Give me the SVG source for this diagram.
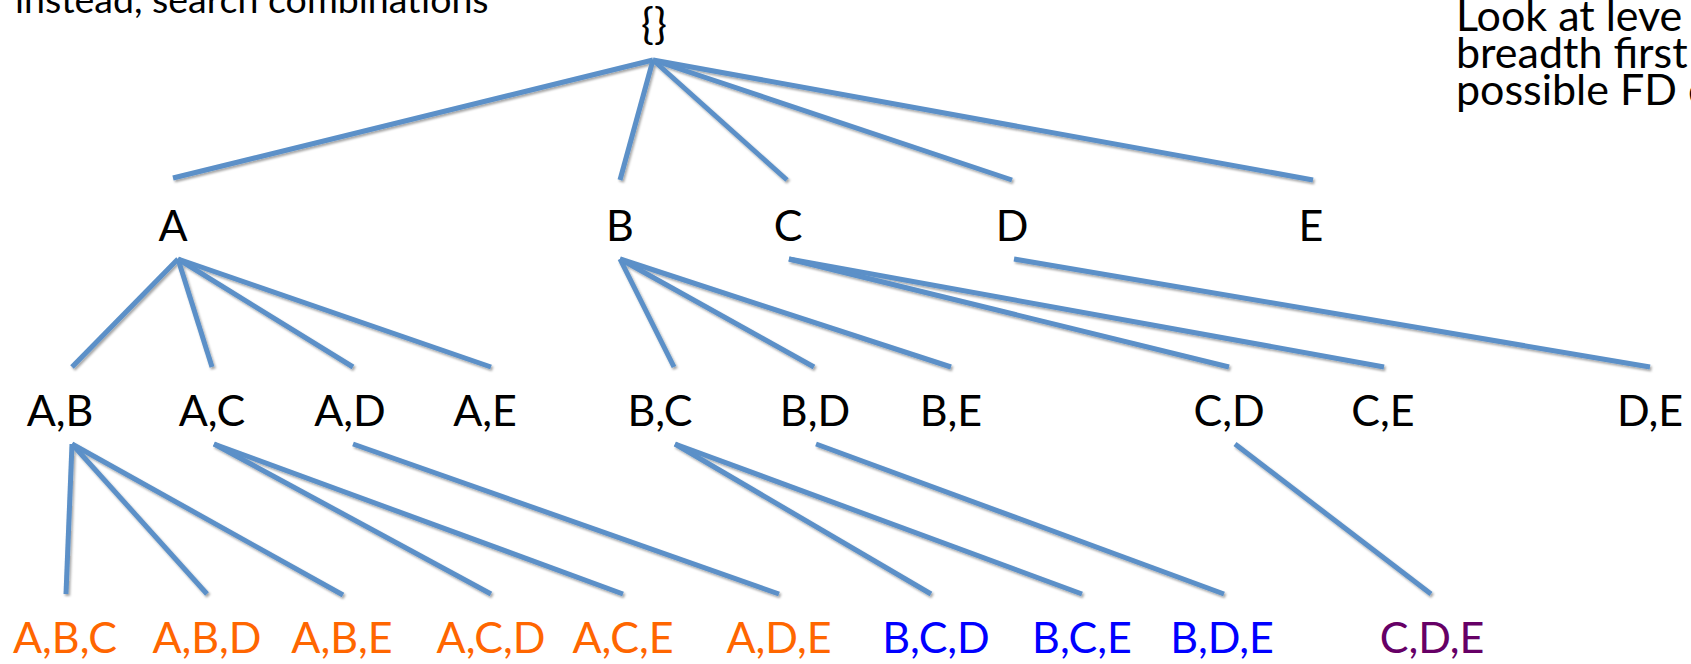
<svg xmlns="http://www.w3.org/2000/svg" width="1691" height="664" viewBox="0 0 1691 664">
<style>
text{font-family:Lato,"Open Sans","Liberation Sans",sans-serif;font-size:43px;text-anchor:middle;fill:#000}
.l{text-anchor:start}
.t{font-size:37.5px}
.o{fill:#FF6600}
.b{fill:#0000FF}
.p{fill:#660066}
#edges line{stroke:#5B90C8;stroke-width:5;stroke-linecap:butt}
</style>
<defs>
<filter id="sh" x="-5%" y="-5%" width="110%" height="120%">
<feDropShadow dx="1.5" dy="2" stdDeviation="1.2" flood-color="#000" flood-opacity="0.35"/>
</filter>
</defs>
<rect width="1691" height="664" fill="#fff"/>
<text class="l t" x="15" y="13">instead, search combinations</text>
<text class="l" x="1456" y="31">Look at leve</text>
<text class="l" x="1456" y="68">breadth first</text>
<text class="l" x="1456" y="105">possible FD c</text>
<g id="edges" filter="url(#sh)">
<line x1="653" y1="60" x2="173" y2="178"/>
<line x1="653" y1="60" x2="620" y2="180"/>
<line x1="653" y1="60" x2="787" y2="180"/>
<line x1="653" y1="60" x2="1012" y2="180"/>
<line x1="653" y1="60" x2="1313" y2="180"/>
<line x1="178" y1="259" x2="72" y2="367"/>
<line x1="178" y1="259" x2="212" y2="367"/>
<line x1="178" y1="259" x2="353" y2="367"/>
<line x1="178" y1="259" x2="491" y2="367"/>
<line x1="620" y1="259" x2="674" y2="367"/>
<line x1="620" y1="259" x2="814" y2="367"/>
<line x1="620" y1="259" x2="951" y2="367"/>
<line x1="789" y1="259" x2="1229" y2="367"/>
<line x1="789" y1="259" x2="1384" y2="367"/>
<line x1="1014" y1="259" x2="1650" y2="367"/>
<line x1="72" y1="444" x2="66" y2="594"/>
<line x1="72" y1="444" x2="207" y2="594"/>
<line x1="72" y1="444" x2="343" y2="595"/>
<line x1="214" y1="444" x2="491" y2="594"/>
<line x1="214" y1="444" x2="623" y2="594"/>
<line x1="353" y1="444" x2="779" y2="594"/>
<line x1="675" y1="444" x2="931" y2="594"/>
<line x1="675" y1="444" x2="1082" y2="594"/>
<line x1="816" y1="444" x2="1224" y2="594"/>
<line x1="1235" y1="444" x2="1431" y2="594"/>
</g>
<g id="n-root"><text x="654" y="39">{}</text></g>
<g id="n-A"><text x="173" y="241">A</text></g>
<g id="n-B"><text x="620" y="241">B</text></g>
<g id="n-C"><text x="788" y="241">C</text></g>
<g id="n-D"><text x="1012" y="241">D</text></g>
<g id="n-E"><text x="1311" y="241">E</text></g>
<g id="n-AB"><text x="60" y="426">A,B</text></g>
<g id="n-AC"><text x="212" y="426">A,C</text></g>
<g id="n-AD"><text x="350" y="426">A,D</text></g>
<g id="n-AE"><text x="485" y="426">A,E</text></g>
<g id="n-BC"><text x="660" y="426">B,C</text></g>
<g id="n-BD"><text x="815" y="426">B,D</text></g>
<g id="n-BE"><text x="951" y="426">B,E</text></g>
<g id="n-CD"><text x="1229" y="426">C,D</text></g>
<g id="n-CE"><text x="1383" y="426">C,E</text></g>
<g id="n-DE"><text x="1650" y="426">D,E</text></g>
<g id="n-ABC"><text class="o" x="65" y="653">A,B,C</text></g>
<g id="n-ABD"><text class="o" x="207" y="653">A,B,D</text></g>
<g id="n-ABE"><text class="o" x="342" y="653">A,B,E</text></g>
<g id="n-ACD"><text class="o" x="491" y="653">A,C,D</text></g>
<g id="n-ACE"><text class="o" x="623" y="653">A,C,E</text></g>
<g id="n-ADE"><text class="o" x="779" y="653">A,D,E</text></g>
<g id="n-BCD"><text class="b" x="936" y="653">B,C,D</text></g>
<g id="n-BCE"><text class="b" x="1082" y="653">B,C,E</text></g>
<g id="n-BDE"><text class="b" x="1222" y="653">B,D,E</text></g>
<g id="n-CDE"><text class="p" x="1432" y="653">C,D,E</text></g>
</svg>
